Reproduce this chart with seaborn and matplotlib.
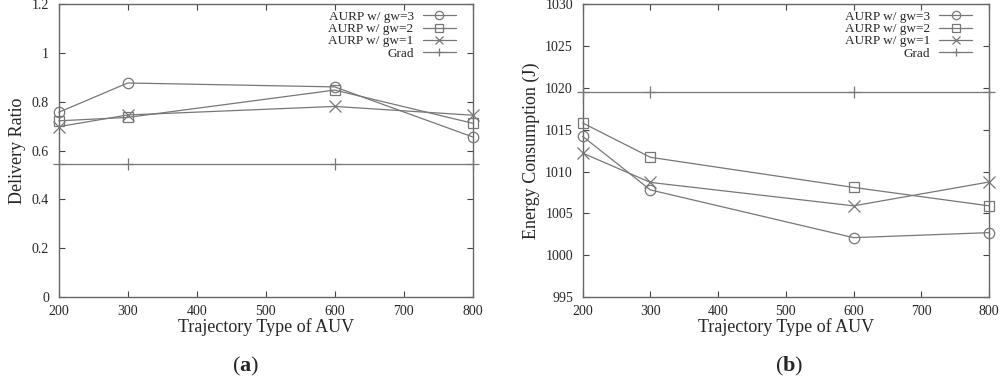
import matplotlib
matplotlib.use("Agg")
import matplotlib.pyplot as plt
import pandas as pd
import seaborn as sns

# trajectory types (x axis)
trajectory = [200, 300, 600, 800]
series_names = ["AURP w/ gw=3", "AURP w/ gw=2", "AURP w/ gw=1", "Grad"]

# (a) delivery ratio
ratio_gw3 = [0.757, 0.877, 0.861, 0.656]
ratio_gw2 = [0.722, 0.736, 0.848, 0.712]
ratio_gw1 = [0.698, 0.746, 0.781, 0.745]
ratio_grad = [0.544, 0.544, 0.544, 0.544]

# (b) energy consumption (J)
energy_gw3 = [1014.2, 1007.8, 1002.1, 1002.7]
energy_gw2 = [1015.8, 1011.7, 1008.1, 1005.9]
energy_gw1 = [1012.2, 1008.7, 1005.9, 1008.75]
energy_grad = [1019.45, 1019.45, 1019.45, 1019.45]

sns.set_style("ticks")
plt.rcParams["font.family"] = ["Liberation Serif", "DejaVu Serif"]
plt.rcParams["mathtext.fontset"] = "custom"
plt.rcParams["mathtext.bf"] = "Liberation Serif:bold"
plt.rcParams["mathtext.rm"] = "Liberation Serif"

markers = {"AURP w/ gw=3": "o", "AURP w/ gw=2": "s",
           "AURP w/ gw=1": "x", "Grad": "+"}
msizes = {"AURP w/ gw=3": 7.5, "AURP w/ gw=2": 7.5,
          "AURP w/ gw=1": 8, "Grad": 8}
line_color = "#777777"


def make_frame(values):
    rows = []
    for name, vals in zip(series_names, values):
        for x, y in zip(trajectory, vals):
            rows.append({"x": x, "y": y, "series": name})
    return pd.DataFrame(rows)


def draw_panel(ax, df, ylim, yticks, ylabel, yfmt):
    for name in series_names:
        sub = df[df["series"] == name]
        sns.lineplot(data=sub, x="x", y="y", ax=ax, color=line_color,
                     linewidth=0.9, marker=markers[name], markersize=msizes[name],
                     markerfacecolor="none", markeredgecolor=line_color,
                     markeredgewidth=0.9, label=name, clip_on=False, zorder=3)
    ax.set_xlim(200, 800)
    ax.set_ylim(*ylim)
    ax.set_xticks(range(200, 801, 100))
    ax.set_yticks(yticks)
    ax.set_yticklabels([yfmt(v) for v in yticks])
    ax.tick_params(direction="in", top=True, right=True, length=4, width=0.8,
                   color="#444444", labelsize=10)
    ax.tick_params(axis="x", pad=6)
    ax.tick_params(axis="y", pad=7)
    for s in ax.spines.values():
        s.set_color("#666666")
        s.set_linewidth(1.0)
    ax.set_xlabel("Trajectory Type of AUV", fontsize=13, labelpad=0)
    ax.set_ylabel(ylabel, fontsize=13, labelpad=4)
    leg = ax.legend(loc="upper right", frameon=False, markerfirst=False,
                    fontsize=9.5, handlelength=2.5, handletextpad=0.7,
                    labelspacing=0.0, borderaxespad=0.1, markerscale=0.8,
                    bbox_to_anchor=(0.975, 1.0))
    leg._legend_box.align = "right"


fig = plt.figure(figsize=(10, 3.77), dpi=100)
ax1 = fig.add_axes([0.0587, 0.212, 0.414, 0.777])
ax2 = fig.add_axes([0.5827, 0.212, 0.4063, 0.777])

df_a = make_frame([ratio_gw3, ratio_gw2, ratio_gw1, ratio_grad])
df_b = make_frame([energy_gw3, energy_gw2, energy_gw1, energy_grad])

draw_panel(ax1, df_a, (0, 1.2), [0, 0.2, 0.4, 0.6, 0.8, 1.0, 1.2],
           "Delivery Ratio", lambda v: f"{v:g}")
draw_panel(ax2, df_b, (995, 1030), list(range(995, 1031, 5)),
           "Energy Consumption (J)", lambda v: f"{v:d}")

fig.text(0.246, 0.027, r"($\mathbf{a}$)", ha="center", va="center", fontsize=16)
fig.text(0.789, 0.027, r"($\mathbf{b}$)", ha="center", va="center", fontsize=16)

fig.savefig("out.png", dpi=100)
